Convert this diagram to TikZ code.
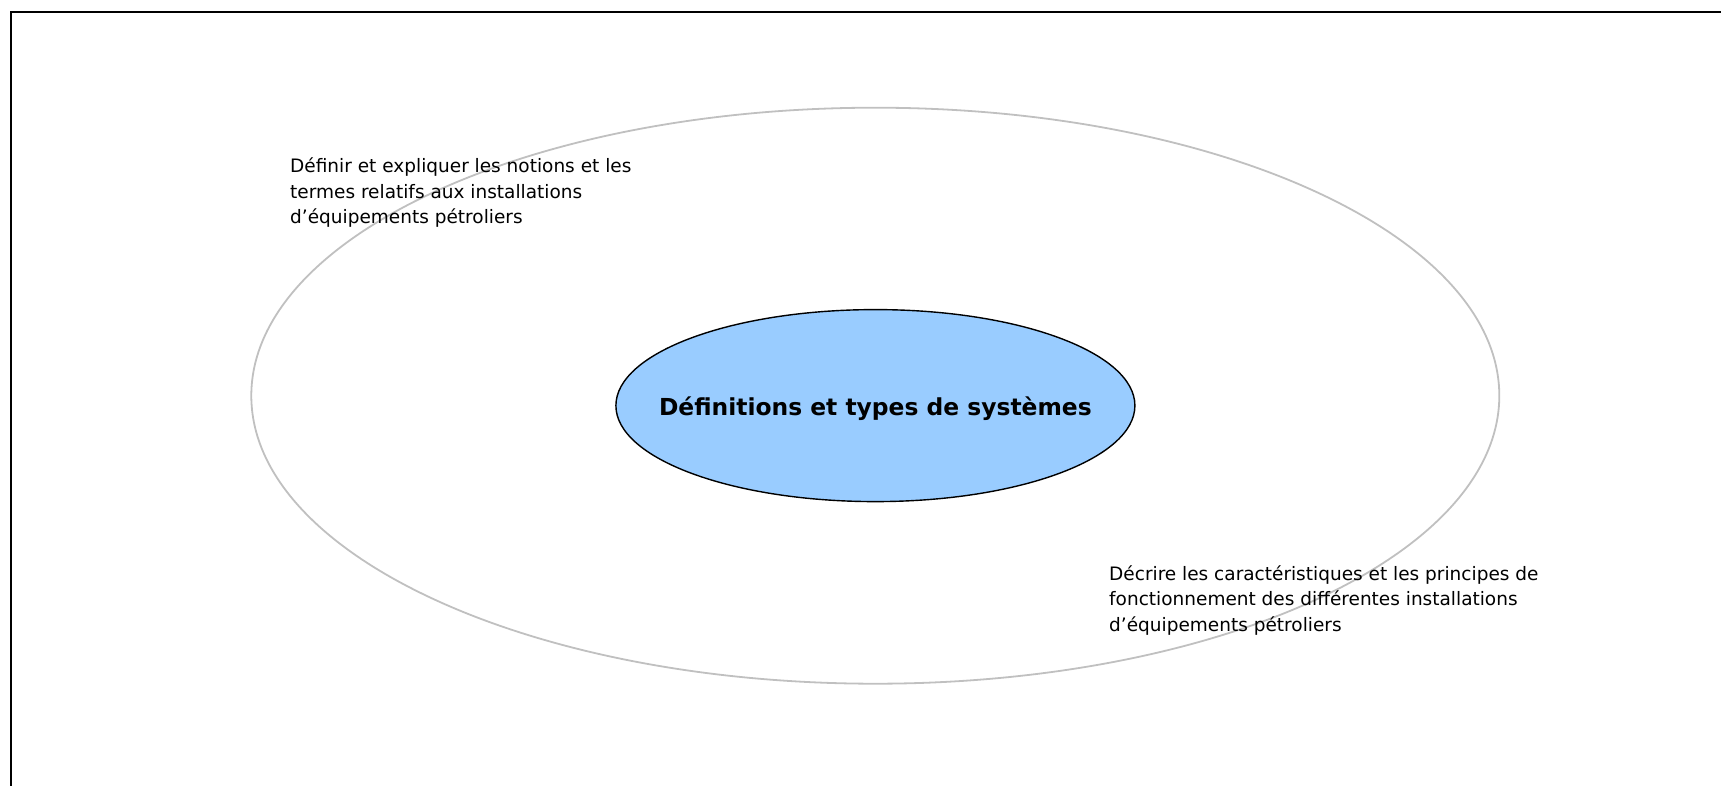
\documentclass[tikz,border=0pt]{standalone}
\usepackage{fontspec}
\setmainfont{DejaVu Sans}
\usetikzlibrary{shapes.geometric}
\definecolor{ringgray}{HTML}{C0C0C0}
\definecolor{coreblue}{HTML}{99CCFF}
\tikzset{
  ring/.style={ellipse, draw=ringgray, line width=1.8pt, inner sep=0pt},
  core/.style={ellipse, draw=black, fill=coreblue, line width=1.4pt, inner sep=0pt},
  titletext/.style={inner sep=0pt, font=\fontsize{23.4}{28}\selectfont\bfseries},
  goaltext/.style={inner sep=0pt, anchor=base west, font=\fontsize{18.5}{25.5}\selectfont},
  frameline/.style={draw=black, line width=2pt}
}
\begin{document}
\begin{tikzpicture}[x=1pt,y=-1pt]
\useasboundingbox (0,0) rectangle (1721,786);
\draw[frameline] (11.3,12) rectangle (1760,830);
\node[ring, minimum width=1248pt, minimum height=576pt] (outer) at (875.3,395.7) {};
\node[core, minimum width=519pt, minimum height=192pt] (inner) at (875.4,405.6) {};
\node[titletext, anchor=base] (title) at (875.4,415.7) {Définitions et types de systèmes};
\node[goaltext] (left) at (290,173) {\parbox[t]{420pt}{\raggedright\fontsize{18.5}{25.5}\selectfont Définir et expliquer les notions et les\\termes relatifs aux installations\\d’équipements pétroliers}};
\node[goaltext] (right) at (1109,580) {\parbox[t]{520pt}{\raggedright\fontsize{18.5}{25.5}\selectfont Décrire les caractéristiques et les principes de\\fonctionnement des différentes installations\\d’équipements pétroliers}};
\end{tikzpicture}
\end{document}
